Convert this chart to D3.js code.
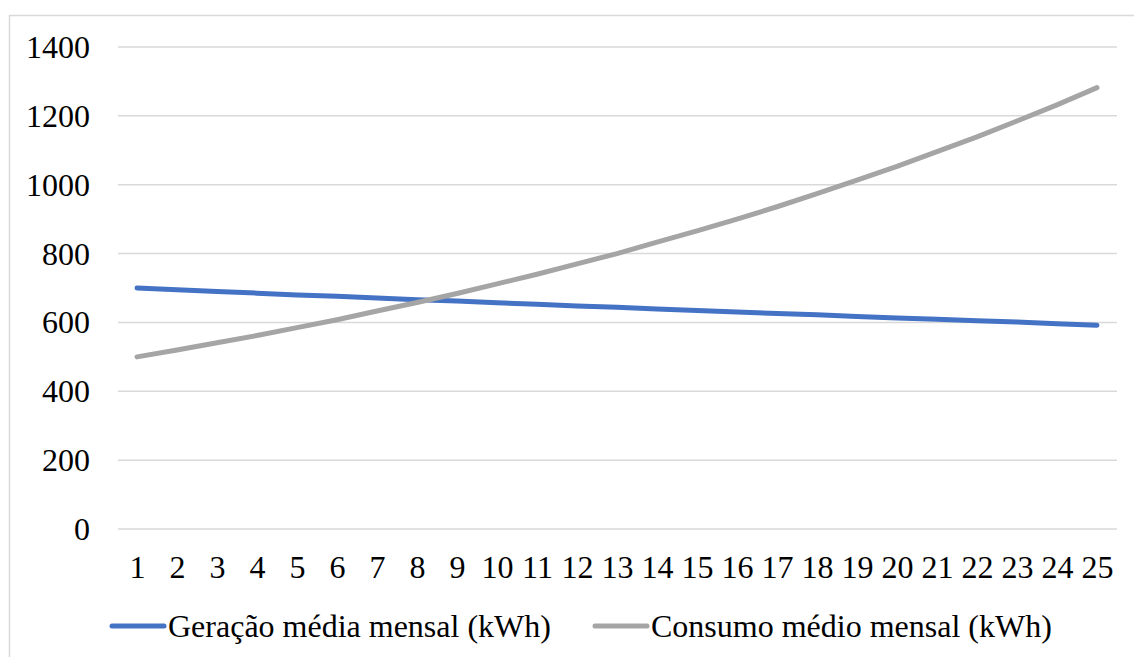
<!DOCTYPE html>
<html><head><meta charset="utf-8"><script src="https://cdn.jsdelivr.net/npm/d3@7"></script></head>
<body style="margin:0">
<svg id="chart" width="1134" height="657"></svg>
<script>
// Years of operation
const years = d3.range(1, 26);
// Average monthly generation (kWh)
const geracao = [700, 695, 690, 685, 680, 676, 671, 666, 662, 657, 653, 648, 644,
                 639, 635, 630, 626, 622, 617, 613, 609, 605, 601, 596, 592];
// Average monthly consumption (kWh)
const consumo = [500, 520, 541, 562, 585, 608, 633, 658, 684, 712, 740, 770, 800,
                 833, 866, 900, 936, 974, 1013, 1053, 1096, 1139, 1185, 1232, 1282];
const yTicks = [0, 200, 400, 600, 800, 1000, 1200, 1400];
const seriesNames = ["Geração média mensal (kWh)", "Consumo médio mensal (kWh)"];
const seriesColors = ["#4472C4", "#A5A5A5"];

const FONT = "Times New Roman";
const FONT_SIZE = 32;

const svg = d3.select("#chart");

// Shared text styling for every label
function serifText(sel) {
  sel.attr("font-family", FONT)
    .style("font-family", `'${FONT}'`)
    .attr("font-size", FONT_SIZE)
    .style("font-size", FONT_SIZE + "px")
    .attr("fill", "#000");
}

// Outer chart frame
svg.append("rect")
  .attr("x", 9.5).attr("y", 15.5)
  .attr("width", 1140).attr("height", 660)
  .attr("fill", "#fff").attr("stroke", "#d9d9d9").attr("stroke-width", 1.5);

const plot = { left: 118, right: 1117, top: 47, bottom: 529 };

const x = d3.scalePoint()
  .domain(years)
  .range([137, 1097]);

const y = d3.scaleLinear()
  .domain([0, 1400])
  .range([plot.bottom, plot.top]);

// Horizontal gridlines
svg.append("g")
  .selectAll("line")
  .data(yTicks)
  .join("line")
  .attr("x1", plot.left).attr("x2", plot.right)
  .attr("y1", d => y(d)).attr("y2", d => y(d))
  .attr("stroke", "#d9d9d9").attr("stroke-width", 1.5);

// Y axis labels
const yAxis = d3.axisLeft(y).tickValues(yTicks).tickFormat(d3.format("d"))
  .tickSize(0).tickPadding(0);
svg.append("g")
  .attr("transform", "translate(90,0)")
  .call(yAxis)
  .call(serifText)
  .call(g => g.select(".domain").remove())
  .selectAll("text")
  .call(serifText)
  .attr("dy", "0.33em");

// X axis labels
const xAxis = d3.axisBottom(x).tickSize(0).tickPadding(0);
svg.append("g")
  .attr("transform", "translate(0,567)")
  .call(xAxis)
  .call(serifText)
  .call(g => g.select(".domain").remove())
  .selectAll("text")
  .call(serifText)
  .attr("dy", "0.33em");

// Series lines
const line = d3.line()
  .x((d, i) => x(years[i]))
  .y(d => y(d));

[geracao, consumo].forEach((vals, k) => {
  svg.append("path")
    .datum(vals)
    .attr("d", line)
    .attr("fill", "none")
    .attr("stroke", seriesColors[k])
    .attr("stroke-width", 5)
    .attr("stroke-linecap", "round")
    .attr("stroke-linejoin", "round");
});

// Legend
const legendX = [112, 595];
seriesNames.forEach((name, k) => {
  const g = svg.append("g").attr("transform", `translate(${legendX[k]},626)`);
  g.append("line")
    .attr("x1", 0).attr("x2", 52)
    .attr("stroke", seriesColors[k]).attr("stroke-width", 5)
    .attr("stroke-linecap", "round");
  g.append("text")
    .attr("x", 56).attr("y", 0).attr("dy", "0.33em")
    .call(serifText)
    .text(name);
});
</script>
</body>
</html>
